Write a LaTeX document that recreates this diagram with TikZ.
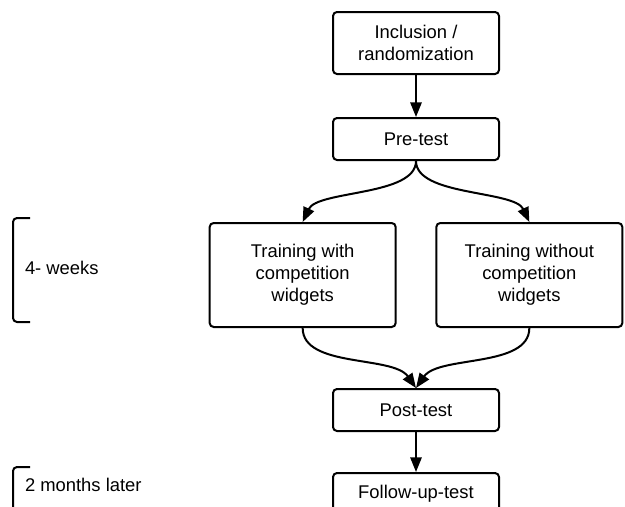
\documentclass[tikz,border=0pt]{standalone}
\usepackage{fontspec}
\setmainfont{Liberation Sans}
\usetikzlibrary{arrows.meta, positioning}
\tikzstyle{block} = [draw, fill=white, rectangle, rounded corners=3pt,
    minimum height=31.5pt, minimum width=124.5pt, align=center]
\tikzstyle{arm} = [block, minimum height=78pt, minimum width=139.5pt]
\tikzstyle{bracket} = [rounded corners=3pt]
\tikzstyle{period} = [anchor=west, inner sep=0pt]

\begin{document}
\begin{tikzpicture}[auto, node distance=31.5pt, >={Triangle[length=11pt,width=8.5pt]},
    line width=1.5pt, font=\fontsize{13.8}{16.5}\selectfont]
    \useasboundingbox (0,0) rectangle (468.75pt,-380.25pt);
    \clip (0,0) rectangle (468.75pt,-380.25pt);
    \node [block, minimum height=46.5pt] (incl) at (312pt,-32.25pt) {Inclusion /\\ randomization};
    \node [block, below=of incl] (pre) {Pre-test};
    \node [arm, below=45.75pt of pre, xshift=-85pt] (with) {Training with\\ competition\\ widgets};
    \node [arm, below=45.75pt of pre, xshift=85pt] (without) {Training without\\ competition\\ widgets};
    \coordinate (join) at (with.south -| pre);
    \node [block, below=45pt of join] (post) {Post-test};
    \node [block, below=30pt of post] (follow) {Follow-up-test};
    \draw [->] (incl) -- (pre);
    \draw [->] (pre.south) to [out=-90, in=65, looseness=0.7] (with.north);
    \draw [->] (pre.south) to [out=-90, in=115, looseness=0.7] (without.north);
    \draw [->] (with.south) to [out=-90, in=125, looseness=0.8] (post.north);
    \draw [->] (without.south) to [out=-90, in=55, looseness=0.8] (post.north);
    \draw [->] (post) -- (follow);
    % time brackets
    \draw [bracket] (22.5pt,-163.5pt) -- (9.75pt,-163.5pt) -- (9.75pt,-241.5pt) -- (22.5pt,-241.5pt);
    \node [period] (weeks) at (18pt,-201pt) {4- weeks};
    \draw [bracket] (22.5pt,-350.25pt) -- (9.75pt,-350.25pt) -- (9.75pt,-390pt);
    \node [period] (later) at (18pt,-363.75pt) {2 months later};
\end{tikzpicture}
\end{document}
